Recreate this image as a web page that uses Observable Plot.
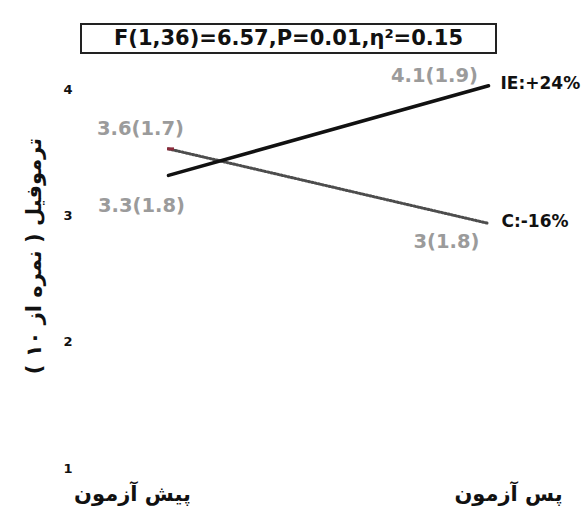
<!DOCTYPE html>
<html><head><meta charset="utf-8">
<script src="https://cdn.jsdelivr.net/npm/d3@7"></script>
<script src="https://cdn.jsdelivr.net/npm/@observablehq/plot@0.6"></script>
<style>
body{margin:0;background:#fff;}
#wrap{position:relative;width:587px;height:517px;}
#stat{position:absolute;left:80px;top:23px;width:417px;height:31px;border:2px solid #222;box-sizing:border-box;font:bold 21px "DejaVu Sans",sans-serif;text-align:center;line-height:27px;color:#111;}
</style></head><body>
<div id="wrap"><div id="stat"></div></div>
<script>
const phases = ["pre", "post"];
const phaseLabels = ["پیش آزمون", "پس آزمون"];
const ieMeans = [3.32, 4.03];
const cMeans = [3.53, 2.94];
const ieLabels = ["3.3(1.8)", "4.1(1.9)"];
const cLabels = ["3.6(1.7)", "3(1.8)"];
const groupLabels = ["IE:+24%", "C:-16%"];
const yTicks = [1, 2, 3, 4];
const yTitle = "ترموفیل ( نمره از ۱۰ )\u200F";
const statText = "F(1,36)=6.57,P=0.01,η²=0.15";

document.getElementById("stat").textContent = statText;

const ieRows = phases.map((p, i) => ({phase: p, value: ieMeans[i], label: ieLabels[i]}));
const cRows = phases.map((p, i) => ({phase: p, value: cMeans[i], label: cLabels[i]}));
const FONT = "DejaVu Sans";
const gray = "#9b9b9b";

const dashSymbol = {draw(ctx) { ctx.rect(-3.5, -1.5, 7, 3); }};

const valText = (rows, i, dx, dy) => Plot.text([rows[i]], {
  x: "phase", y: "value", text: "label", dx, dy,
  fill: gray, fontWeight: "bold", fontSize: 19.5, fontFamily: FONT
});

const chart = Plot.plot({
  width: 587, height: 517,
  marginLeft: 168, marginRight: 99, marginTop: 89, marginBottom: 49,
  style: {background: "transparent", fontFamily: FONT},
  x: {type: "point", domain: phases, padding: 0, axis: null},
  y: {domain: [1, 4]},
  marks: [
    Plot.axisY({ticks: yTicks, tickSize: 0, tickPadding: 96, fontWeight: "bold", fontSize: 13, label: null, tickFormat: d => String(d), fill: "#111"}),
    Plot.line(cRows, {x: "phase", y: "value", stroke: "#4d4d4d", strokeWidth: 3, strokeDasharray: "1.5,2"}),
    Plot.line(ieRows, {x: "phase", y: "value", stroke: "#111", strokeWidth: 3.5}),
    Plot.dot([cRows[0]], {x: "phase", y: "value", symbol: dashSymbol, fill: "#8a2a3a", stroke: null, dx: 2}),
    valText(cRows, 0, -28, -20),
    valText(ieRows, 0, -27, 30),
    valText(ieRows, 1, -54, -10),
    valText(cRows, 1, -42, 18),
    Plot.text([ieRows[1]], {x: "phase", y: "value", text: () => groupLabels[0], textAnchor: "start", dx: 12, dy: -2, fontWeight: "bold", fontSize: 17, fill: "#111"}),
    Plot.text([cRows[1]], {x: "phase", y: "value", text: () => groupLabels[1], textAnchor: "start", dx: 13, dy: -2, fontWeight: "bold", fontSize: 17, fill: "#111"}),
    Plot.text([phases[0]], {x: d => d, text: () => phaseLabels[0], frameAnchor: "bottom", dx: -36, dy: 32, fontSize: 21, fontWeight: "bold", fill: "#111"}),
    Plot.text([phases[1]], {x: d => d, text: () => phaseLabels[1], frameAnchor: "bottom", dx: 20, dy: 32, fontSize: 21, fontWeight: "bold", fill: "#111"}),
    Plot.text([yTitle], {text: d => d, frameAnchor: "left", textAnchor: "middle", rotate: -90, dx: -134, dy: -23, fontSize: 21, fontWeight: "bold", fill: "#111"})
  ]
});
document.getElementById("wrap").appendChild(chart);
</script>
</body></html>
